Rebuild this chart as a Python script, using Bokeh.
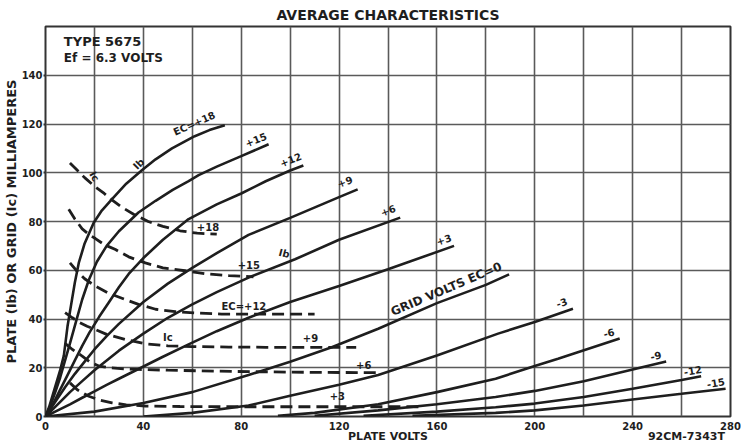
import math
from bokeh.plotting import figure
from bokeh.models import FixedTicker, ColumnDataSource, Label, LinearAxis
from bokeh.core.properties import value
from bokeh.embed import file_html
from bokeh.resources import INLINE

FONT = "DejaVu Sans"
INK = "#1e1e1e"
GRID = "#5a5a5a"

# ---------------- data ----------------
x_ticks = [0, 40, 80, 120, 160, 200, 240, 280]
x_grid = [0, 20, 40, 60, 80, 100, 120, 140, 160, 180, 200, 220, 240, 260, 280]
y_ticks = [0, 20, 40, 60, 80, 100, 120, 140]
y_grid = [0, 20, 40, 60, 80, 100, 120, 140, 160]
foot_ticks = [140, 262]
foot_labels = ["PLATE VOLTS", "92CM-7343T"]

# Plate current Ib (mA) vs plate volts, for grid volts Ec
ib_p18_x = [0, 1.5, 3, 4.5, 6, 7.5, 9, 10.5, 12, 13.6, 16, 19.7, 23, 27, 33, 39.4, 45, 51.7, 61, 67, 73.3]
ib_p18_y = [0, 4, 9, 14, 19, 25, 37, 46, 55, 63, 71, 79.5, 84.5, 89, 95.5, 101, 105.5, 110, 115, 117.5, 119.5]
ib_p15_x = [0, 2, 4, 6, 8, 10, 12.5, 15, 17.7, 21, 25, 30, 38, 45, 52, 58.5, 62.6, 70, 80, 91.2]
ib_p15_y = [0, 4.5, 10, 16, 23, 30, 39, 48, 56, 63.5, 70, 76, 83.7, 88.5, 93, 96.6, 99, 102.5, 106.8, 111.7]
ib_p12_x = [0, 3, 6, 9, 12, 15, 18, 22, 26, 30, 34, 40, 48, 58.5, 70, 80, 90, 100, 105.4]
ib_p12_y = [0, 5, 11, 17, 23, 29, 34.5, 41, 47, 53, 58.5, 65, 72.5, 81, 87, 91.5, 96.5, 100.9, 103]
ib_p9_x = [0, 4, 8, 12, 16, 20, 25, 30, 40, 50, 60, 70, 83, 100, 120, 127.6]
ib_p9_y = [0, 6, 12, 17.5, 22.5, 27.5, 33, 38, 47, 54.5, 61, 67, 74.5, 81.5, 90, 93.2]
ib_p6_x = [0, 5, 10, 15, 20, 30, 40, 50, 60, 70, 83, 102, 120, 145]
ib_p6_y = [0, 5, 10, 14.5, 19, 27, 34, 40.5, 46, 51, 57, 64.5, 72.5, 81.6]
ib_p3_x = [0, 5, 10, 15, 20, 25, 30, 38, 48, 58.5, 70, 83, 100, 120, 140, 167]
ib_p3_y = [0, 2.5, 5, 7.7, 10.3, 13, 15.5, 19.5, 24.5, 29.6, 35, 40.5, 47, 53.5, 60.4, 70]
ib_0_x = [0, 20, 40, 60, 83, 100, 117, 136, 160, 180, 189.5]
ib_0_y = [0, 2, 5.5, 10, 17, 22.5, 28.4, 36, 46.5, 54, 58.3]
ib_m3_x = [40, 60, 83, 100, 120, 136, 160, 185, 200, 215.6]
ib_m3_y = [0, 1.5, 4.5, 8.5, 13, 17, 25, 34, 38.8, 44.2]
ib_m6_x = [95, 110, 136, 160, 184, 200, 209.5, 234.7]
ib_m6_y = [0.3, 1.5, 5, 10, 15.5, 20.7, 23.7, 32]
ib_m9_x = [110, 136, 160, 184, 200, 220, 240, 253.7]
ib_m9_y = [0.3, 2.5, 5, 8, 10.5, 14.5, 19.3, 22.6]
ib_m12_x = [130, 160, 184, 200, 220, 240, 260, 268]
ib_m12_y = [0.3, 2, 3.8, 5.3, 8, 11.4, 15, 16.5]
ib_m15_x = [150, 184, 200, 220, 240, 260, 278]
ib_m15_y = [0.3, 1.5, 2.5, 4.5, 7, 9.3, 11.4]

# Grid current Ic (mA) vs plate volts, dashed
ic_p18_x = [10, 13, 16, 20, 24, 27, 31, 36, 42, 48, 55, 62, 70]
ic_p18_y = [104, 101, 98, 94.5, 91.5, 89, 86, 83, 80, 78, 76.2, 75.2, 74.8]
ic_p15_x = [9.5, 12, 15, 18, 20.4, 24, 28.6, 34, 40.8, 48, 57, 66, 75, 85]
ic_p15_y = [85, 81, 77, 74.5, 73, 70.5, 68.5, 65.5, 63, 61, 59.8, 58.5, 57.8, 57.3]
ic_p12_x = [10, 13, 16, 20.4, 26, 32.6, 38, 45, 53, 62.6, 72, 83, 95, 110]
ic_p12_y = [63, 59.5, 56.5, 53.5, 50.5, 48, 46, 44, 43, 42.4, 42, 42, 42, 42]
ic_p9_x = [8, 11, 14, 17, 20.4, 25, 32.6, 40.8, 50, 60, 75, 90, 105, 127]
ic_p9_y = [42.6, 40.5, 38.5, 37, 35.7, 33.7, 31.6, 29.8, 29, 28.7, 28.5, 28.4, 28.4, 28.4]
ic_p6_x = [8, 11, 15, 18, 21.8, 26, 32, 38, 50, 70, 90, 110, 135]
ic_p6_y = [30, 27.5, 24.8, 22.5, 20.7, 20, 19.5, 19.3, 19, 18.6, 18.3, 18.1, 18]
ic_p3_x = [10, 13, 17.7, 22, 27.2, 33, 40.8, 55, 75, 100, 125, 153]
ic_p3_y = [13.8, 11, 8.3, 6.8, 5.6, 4.8, 4.3, 4.1, 4, 4, 4, 4]

ib_curves = [
    (ib_p18_x, ib_p18_y), (ib_p15_x, ib_p15_y), (ib_p12_x, ib_p12_y),
    (ib_p9_x, ib_p9_y), (ib_p6_x, ib_p6_y), (ib_p3_x, ib_p3_y),
    (ib_0_x, ib_0_y), (ib_m3_x, ib_m3_y), (ib_m6_x, ib_m6_y),
    (ib_m9_x, ib_m9_y), (ib_m12_x, ib_m12_y), (ib_m15_x, ib_m15_y),
]
ic_curves = [
    (ic_p18_x, ic_p18_y), (ic_p15_x, ic_p15_y), (ic_p12_x, ic_p12_y),
    (ic_p9_x, ic_p9_y), (ic_p6_x, ic_p6_y), (ic_p3_x, ic_p3_y),
]

# curve annotations (text centres)
ann_text = ["EC=+18", "+15", "+12", "+9", "+6", "+3",
            "-3", "-6", "-9", "-12", "-15",
            "+18", "+15", "EC=+12", "+9", "+6", "+3",
            "Ib", "Ib", "Ic", "Ic"]
ann_x = [60.8, 86.0, 100.2, 122.4, 140.0, 162.8,
         211.0, 230.3, 249.5, 264.6, 274.0,
         66.4, 83.1, 81.1, 108.3, 130.1, 119.3,
         38.1, 97.6, 20.0, 50.0]
ann_y = [120.2, 113.6, 105.4, 96.4, 84.6, 72.6,
         46.8, 34.4, 25.0, 18.9, 13.9,
         77.8, 62.0, 45.2, 32.3, 21.2, 8.3,
         103.6, 66.9, 98.5, 32.6]
ann_angle = [24, 22, 22, 20, 20, 18,
             20, 15, 12, 10, 10,
             0, 0, 0, 0, 0, 0,
             45, -15, -60, 0]

# ---------------- figure ----------------
p = figure(frame_width=685, frame_height=390, x_range=(0, 280), y_range=(0, 160),
           output_backend="svg", toolbar_location=None,
           min_border_left=39, min_border_right=11, min_border_top=19,
           min_border_bottom=20)
p.background_fill_color = "white"
p.border_fill_color = "white"
p.outline_line_color = "#333333"
p.outline_line_width = 2

p.title.text = "AVERAGE CHARACTERISTICS"
p.title.align = "center"
p.title.text_font = FONT
p.title.text_font_size = "14px"
p.title.text_font_style = "bold"
p.title.text_color = INK
p.title.standoff = 8
p.title.offset = 0

p.xaxis.ticker = FixedTicker(ticks=x_ticks)
p.yaxis.ticker = FixedTicker(ticks=y_ticks)
p.xgrid.ticker = FixedTicker(ticks=x_grid)
p.ygrid.ticker = FixedTicker(ticks=y_grid)
for g in (p.xgrid[0], p.ygrid[0]):
    g.grid_line_color = GRID
    g.grid_line_width = 1.6
    g.grid_line_alpha = 1.0

for ax in (p.xaxis[0], p.yaxis[0]):
    ax.axis_line_color = None
    ax.major_tick_in = 0
    ax.major_tick_out = 0
    ax.minor_tick_line_color = None
    ax.major_label_text_font = FONT
    ax.major_label_text_font_style = "bold"
    ax.major_label_text_font_size = "10px"
    ax.major_label_text_color = INK
    ax.axis_label_text_font = FONT
    ax.axis_label_text_font_style = "bold"
    ax.axis_label_text_color = INK
    ax.axis_label_standoff = 0

p.xaxis.major_label_standoff = 5
p.yaxis.major_tick_out = 2
p.yaxis.major_label_standoff = 1
p.yaxis.major_tick_line_color = "#333333"
p.yaxis.major_tick_line_width = 2
p.yaxis.axis_label = "PLATE (Ib) OR GRID (Ic) MILLIAMPERES"
p.yaxis.axis_label_text_font_size = "13px"

# second row under the x axis: axis title and drawing number
foot = LinearAxis(ticker=FixedTicker(ticks=foot_ticks),
                  major_label_overrides=dict(zip(foot_ticks, foot_labels)),
                  axis_line_color=None, major_tick_line_color=None,
                  minor_tick_line_color=None, major_label_standoff=-9,
                  major_label_text_font=FONT, major_label_text_font_style="bold",
                  major_label_text_font_size="11px", major_label_text_color=INK)
p.add_layout(foot, "below")

for xs, ys in ib_curves:
    p.line(xs, ys, line_color=INK, line_width=2.6)
for xs, ys in ic_curves:
    p.line(xs, ys, line_color=INK, line_width=2.8, line_dash="12 6")

src = ColumnDataSource(dict(x=ann_x, y=ann_y, text=ann_text,
                            angle=[math.radians(a) for a in ann_angle]))
p.text(x="x", y="y", text="text", angle="angle", source=src,
       text_font=value(FONT), text_font_style="bold", text_font_size="10px",
       text_color=INK, text_align="center", text_baseline="middle")
p.text(x=[163.8], y=[52.3], text=["GRID VOLTS EC=0"], angle=[math.radians(23)],
       text_font=value(FONT), text_font_style="bold", text_font_size="12px",
       text_color=INK, text_align="center", text_baseline="middle")

p.add_layout(Label(x=7.5, y=153.7, text="TYPE 5675", text_font=FONT,
                   text_font_style="bold", text_font_size="13px",
                   text_color=INK, text_baseline="middle"))
p.add_layout(Label(x=7.5, y=147.2, text="Ef = 6.3 VOLTS", text_font=FONT,
                   text_font_style="bold", text_font_size="12px",
                   text_color=INK, text_baseline="middle"))

open("out.html", "w").write(file_html(p, INLINE))
